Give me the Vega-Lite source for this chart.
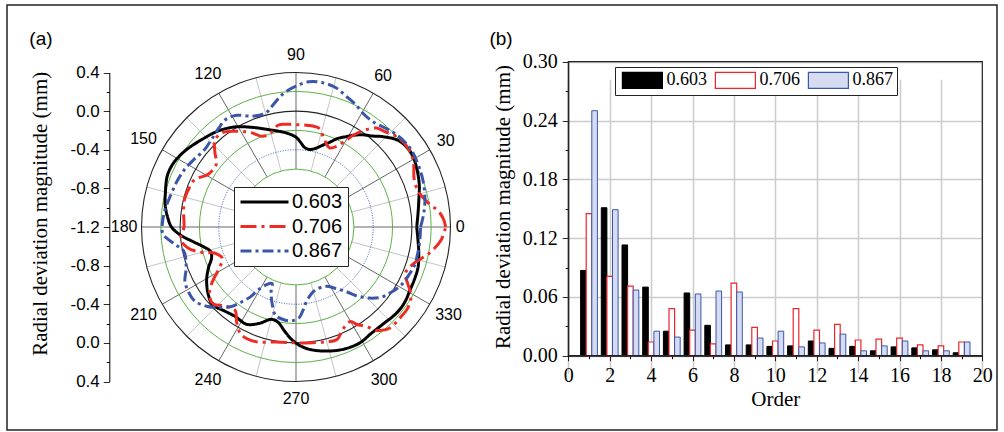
{
  "$schema": "https://vega.github.io/schema/vega-lite/v6.json",
  "width": 990,
  "height": 425,
  "autosize": {"type": "none"},
  "padding": {"left": 7, "top": 5, "right": 7, "bottom": 2},
  "background": "white",
  "config": {
    "view": {"stroke": "#222222", "strokeWidth": 1.5},
    "axis": {"domainColor": "#000000", "tickColor": "#000000", "labelColor": "#000000", "titleColor": "#000000", "titleFontWeight": "normal", "labelOverlap": false, "labelBound": false, "labelFlush": false}
  },
  "datasets": {
    "curves": [
      {"series":"0.603","angle":0,"dev":0.05},{"series":"0.603","angle":6,"dev":0.07},{"series":"0.603","angle":12,"dev":0.10},{"series":"0.603","angle":19,"dev":0.15},{"series":"0.603","angle":26,"dev":0.19},{"series":"0.603","angle":33,"dev":0.22},{"series":"0.603","angle":40,"dev":0.19},{"series":"0.603","angle":46,"dev":0.10},{"series":"0.603","angle":50,"dev":0.03},{"series":"0.603","angle":54,"dev":-0.02},{"series":"0.603","angle":58,"dev":-0.08},{"series":"0.603","angle":61,"dev":-0.13},{"series":"0.603","angle":65,"dev":-0.19},{"series":"0.603","angle":68,"dev":-0.25},{"series":"0.603","angle":72,"dev":-0.31},{"series":"0.603","angle":76,"dev":-0.36},{"series":"0.603","angle":80,"dev":-0.385},{"series":"0.603","angle":84,"dev":-0.37},{"series":"0.603","angle":87,"dev":-0.32},{"series":"0.603","angle":90,"dev":-0.27},{"series":"0.603","angle":96,"dev":-0.22},{"series":"0.603","angle":106,"dev":-0.15},{"series":"0.603","angle":114,"dev":-0.07},{"series":"0.603","angle":121,"dev":0.01},{"series":"0.603","angle":129,"dev":0.08},{"series":"0.603","angle":137,"dev":0.13},{"series":"0.603","angle":145,"dev":0.19},{"series":"0.603","angle":152,"dev":0.23},{"series":"0.603","angle":158,"dev":0.235},{"series":"0.603","angle":165,"dev":0.20},{"series":"0.603","angle":171,"dev":0.17},{"series":"0.603","angle":176,"dev":0.13},{"series":"0.603","angle":180,"dev":0.09},{"series":"0.603","angle":184,"dev":0.0},{"series":"0.603","angle":188,"dev":-0.12},{"series":"0.603","angle":192,"dev":-0.22},{"series":"0.603","angle":196,"dev":-0.28},{"series":"0.603","angle":200,"dev":-0.27},{"series":"0.603","angle":205,"dev":-0.20},{"series":"0.603","angle":211,"dev":-0.12},{"series":"0.603","angle":218,"dev":-0.05},{"series":"0.603","angle":223,"dev":-0.02},{"series":"0.603","angle":230,"dev":-0.06},{"series":"0.603","angle":236,"dev":-0.08},{"series":"0.603","angle":243,"dev":-0.07},{"series":"0.603","angle":249,"dev":-0.13},{"series":"0.603","angle":255,"dev":-0.21},{"series":"0.603","angle":259,"dev":-0.20},{"series":"0.603","angle":264,"dev":-0.11},{"series":"0.603","angle":268,"dev":-0.03},{"series":"0.603","angle":272,"dev":0.03},{"series":"0.603","angle":277,"dev":0.08},{"series":"0.603","angle":285,"dev":0.13},{"series":"0.603","angle":292,"dev":0.16},{"series":"0.603","angle":299,"dev":0.17},{"series":"0.603","angle":305,"dev":0.15},{"series":"0.603","angle":312,"dev":0.15},{"series":"0.603","angle":319,"dev":0.17},{"series":"0.603","angle":325,"dev":0.17},{"series":"0.603","angle":331,"dev":0.15},{"series":"0.603","angle":337,"dev":0.14},{"series":"0.603","angle":342,"dev":0.13},{"series":"0.603","angle":348,"dev":0.10},{"series":"0.603","angle":354,"dev":0.07},{"series":"0.603","angle":360,"dev":0.05},
      {"series":"0.706","angle":0,"dev":0.35},{"series":"0.706","angle":3,"dev":0.33},{"series":"0.706","angle":6,"dev":0.29},{"series":"0.706","angle":11,"dev":0.18},{"series":"0.706","angle":16,"dev":0.12},{"series":"0.706","angle":22,"dev":0.12},{"series":"0.706","angle":28,"dev":0.18},{"series":"0.706","angle":32,"dev":0.21},{"series":"0.706","angle":37,"dev":0.22},{"series":"0.706","angle":42,"dev":0.20},{"series":"0.706","angle":47,"dev":0.15},{"series":"0.706","angle":51,"dev":0.12},{"series":"0.706","angle":55,"dev":0.02},{"series":"0.706","angle":58,"dev":-0.08},{"series":"0.706","angle":60,"dev":-0.16},{"series":"0.706","angle":63,"dev":-0.26},{"series":"0.706","angle":67,"dev":-0.31},{"series":"0.706","angle":72,"dev":-0.25},{"series":"0.706","angle":77,"dev":-0.15},{"series":"0.706","angle":84,"dev":-0.14},{"series":"0.706","angle":90,"dev":-0.14},{"series":"0.706","angle":96,"dev":-0.13},{"series":"0.706","angle":100,"dev":-0.13},{"series":"0.706","angle":105,"dev":-0.19},{"series":"0.706","angle":110,"dev":-0.20},{"series":"0.706","angle":116,"dev":-0.11},{"series":"0.706","angle":122,"dev":-0.03},{"series":"0.706","angle":128,"dev":0.04},{"series":"0.706","angle":133,"dev":0.03},{"series":"0.706","angle":137,"dev":-0.05},{"series":"0.706","angle":142,"dev":-0.15},{"series":"0.706","angle":149,"dev":-0.14},{"series":"0.706","angle":155,"dev":-0.04},{"series":"0.706","angle":161,"dev":-0.02},{"series":"0.706","angle":167,"dev":-0.01},{"series":"0.706","angle":174,"dev":-0.03},{"series":"0.706","angle":180,"dev":-0.04},{"series":"0.706","angle":186,"dev":0.0},{"series":"0.706","angle":191,"dev":-0.06},{"series":"0.706","angle":195,"dev":-0.19},{"series":"0.706","angle":198,"dev":-0.32},{"series":"0.706","angle":203,"dev":-0.37},{"series":"0.706","angle":209,"dev":-0.28},{"series":"0.706","angle":213,"dev":-0.17},{"series":"0.706","angle":218,"dev":-0.06},{"series":"0.706","angle":223,"dev":-0.03},{"series":"0.706","angle":228,"dev":-0.10},{"series":"0.706","angle":234,"dev":-0.13},{"series":"0.706","angle":238,"dev":-0.04},{"series":"0.706","angle":243,"dev":0.05},{"series":"0.706","angle":250,"dev":0.06},{"series":"0.706","angle":260,"dev":0.01},{"series":"0.706","angle":270,"dev":0.0},{"series":"0.706","angle":278,"dev":0.01},{"series":"0.706","angle":285,"dev":0.03},{"series":"0.706","angle":290,"dev":0.04},{"series":"0.706","angle":295,"dev":-0.04},{"series":"0.706","angle":300,"dev":-0.07},{"series":"0.706","angle":302,"dev":-0.01},{"series":"0.706","angle":305,"dev":0.05},{"series":"0.706","angle":308,"dev":0.16},{"series":"0.706","angle":313,"dev":0.23},{"series":"0.706","angle":318,"dev":0.23},{"series":"0.706","angle":324,"dev":0.23},{"series":"0.706","angle":329,"dev":0.19},{"series":"0.706","angle":333,"dev":0.10},{"series":"0.706","angle":337,"dev":0.03},{"series":"0.706","angle":343,"dev":0.08},{"series":"0.706","angle":349,"dev":0.21},{"series":"0.706","angle":355,"dev":0.31},{"series":"0.706","angle":360,"dev":0.35},
      {"series":"0.867","angle":0,"dev":0.09},{"series":"0.867","angle":6,"dev":0.13},{"series":"0.867","angle":12,"dev":0.165},{"series":"0.867","angle":20,"dev":0.20},{"series":"0.867","angle":27,"dev":0.22},{"series":"0.867","angle":33,"dev":0.235},{"series":"0.867","angle":38,"dev":0.23},{"series":"0.867","angle":43,"dev":0.21},{"series":"0.867","angle":48,"dev":0.18},{"series":"0.867","angle":54,"dev":0.15},{"series":"0.867","angle":60,"dev":0.17},{"series":"0.867","angle":64,"dev":0.21},{"series":"0.867","angle":69,"dev":0.25},{"series":"0.867","angle":74,"dev":0.30},{"series":"0.867","angle":80,"dev":0.32},{"series":"0.867","angle":85,"dev":0.31},{"series":"0.867","angle":90,"dev":0.26},{"series":"0.867","angle":94,"dev":0.21},{"series":"0.867","angle":97,"dev":0.16},{"series":"0.867","angle":101,"dev":0.08},{"series":"0.867","angle":105,"dev":0.02},{"series":"0.867","angle":111,"dev":0.03},{"series":"0.867","angle":118,"dev":0.11},{"series":"0.867","angle":123,"dev":0.13},{"series":"0.867","angle":128,"dev":0.10},{"series":"0.867","angle":134,"dev":0.06},{"series":"0.867","angle":140,"dev":0.04},{"series":"0.867","angle":147,"dev":0.07},{"series":"0.867","angle":153,"dev":0.10},{"series":"0.867","angle":159,"dev":0.12},{"series":"0.867","angle":166,"dev":0.14},{"series":"0.867","angle":173,"dev":0.17},{"series":"0.867","angle":179,"dev":0.185},{"series":"0.867","angle":183,"dev":0.18},{"series":"0.867","angle":188,"dev":0.07},{"series":"0.867","angle":192,"dev":-0.01},{"series":"0.867","angle":200,"dev":0.01},{"series":"0.867","angle":206,"dev":0.08},{"series":"0.867","angle":211,"dev":0.10},{"series":"0.867","angle":216,"dev":0.10},{"series":"0.867","angle":222,"dev":0.03},{"series":"0.867","angle":227,"dev":-0.06},{"series":"0.867","angle":231,"dev":-0.14},{"series":"0.867","angle":234,"dev":-0.24},{"series":"0.867","angle":237,"dev":-0.34},{"series":"0.867","angle":239,"dev":-0.44},{"series":"0.867","angle":243,"dev":-0.53},{"series":"0.867","angle":247,"dev":-0.565},{"series":"0.867","angle":249,"dev":-0.48},{"series":"0.867","angle":253,"dev":-0.36},{"series":"0.867","angle":257,"dev":-0.26},{"series":"0.867","angle":263,"dev":-0.23},{"series":"0.867","angle":268,"dev":-0.23},{"series":"0.867","angle":272,"dev":-0.26},{"series":"0.867","angle":275,"dev":-0.34},{"series":"0.867","angle":278,"dev":-0.42},{"series":"0.867","angle":283,"dev":-0.49},{"series":"0.867","angle":288,"dev":-0.52},{"series":"0.867","angle":297,"dev":-0.51},{"series":"0.867","angle":303,"dev":-0.44},{"series":"0.867","angle":308,"dev":-0.35},{"series":"0.867","angle":311,"dev":-0.26},{"series":"0.867","angle":316,"dev":-0.14},{"series":"0.867","angle":321,"dev":-0.05},{"series":"0.867","angle":326,"dev":0.0},{"series":"0.867","angle":332,"dev":0.05},{"series":"0.867","angle":337,"dev":0.07},{"series":"0.867","angle":342,"dev":0.09},{"series":"0.867","angle":347,"dev":0.09},{"series":"0.867","angle":353,"dev":0.09},{"series":"0.867","angle":360,"dev":0.09}
    ],
    "spokes": [
      {"angle":0},{"angle":15},{"angle":30},{"angle":45},{"angle":60},{"angle":75},{"angle":90},{"angle":105},{"angle":120},{"angle":135},{"angle":150},{"angle":165},{"angle":180},{"angle":195},{"angle":210},{"angle":225},{"angle":240},{"angle":255},{"angle":270},{"angle":285},{"angle":300},{"angle":315},{"angle":330},{"angle":345}
    ],
    "rings": [
      {"dev":-0.6,"style":"green"},{"dev":-0.4,"style":"blue"},{"dev":-0.2,"style":"green"},{"dev":0.0,"style":"black"},{"dev":0.2,"style":"green"},{"dev":0.4,"style":"black"}
    ],
    "angleLabels": [
      {"angle":0,"label":"0"},{"angle":30,"label":"30"},{"angle":60,"label":"60"},{"angle":90,"label":"90"},{"angle":120,"label":"120"},{"angle":150,"label":"150"},{"angle":180,"label":"180"},{"angle":210,"label":"210"},{"angle":240,"label":"240"},{"angle":270,"label":"270"},{"angle":300,"label":"300"},{"angle":330,"label":"330"}
    ],
    "bars": [
      {"series":"0.603","order":1,"value":0.087},{"series":"0.706","order":1,"value":0.145},{"series":"0.867","order":1,"value":0.250},
      {"series":"0.603","order":2,"value":0.151},{"series":"0.706","order":2,"value":0.081},{"series":"0.867","order":2,"value":0.149},
      {"series":"0.603","order":3,"value":0.113},{"series":"0.706","order":3,"value":0.071},{"series":"0.867","order":3,"value":0.067},
      {"series":"0.603","order":4,"value":0.070},{"series":"0.706","order":4,"value":0.014},{"series":"0.867","order":4,"value":0.025},
      {"series":"0.603","order":5,"value":0.025},{"series":"0.706","order":5,"value":0.048},{"series":"0.867","order":5,"value":0.019},
      {"series":"0.603","order":6,"value":0.064},{"series":"0.706","order":6,"value":0.026},{"series":"0.867","order":6,"value":0.063},
      {"series":"0.603","order":7,"value":0.031},{"series":"0.706","order":7,"value":0.012},{"series":"0.867","order":7,"value":0.066},
      {"series":"0.603","order":8,"value":0.011},{"series":"0.706","order":8,"value":0.074},{"series":"0.867","order":8,"value":0.065},
      {"series":"0.603","order":9,"value":0.011},{"series":"0.706","order":9,"value":0.029},{"series":"0.867","order":9,"value":0.018},
      {"series":"0.603","order":10,"value":0.0095},{"series":"0.706","order":10,"value":0.015},{"series":"0.867","order":10,"value":0.025},
      {"series":"0.603","order":11,"value":0.010},{"series":"0.706","order":11,"value":0.048},{"series":"0.867","order":11,"value":0.009},
      {"series":"0.603","order":12,"value":0.015},{"series":"0.706","order":12,"value":0.026},{"series":"0.867","order":12,"value":0.013},
      {"series":"0.603","order":13,"value":0.0075},{"series":"0.706","order":13,"value":0.032},{"series":"0.867","order":13,"value":0.022},
      {"series":"0.603","order":14,"value":0.0095},{"series":"0.706","order":14,"value":0.016},{"series":"0.867","order":14,"value":0.005},
      {"series":"0.603","order":15,"value":0.005},{"series":"0.706","order":15,"value":0.017},{"series":"0.867","order":15,"value":0.010},
      {"series":"0.603","order":16,"value":0.009},{"series":"0.706","order":16,"value":0.018},{"series":"0.867","order":16,"value":0.015},
      {"series":"0.603","order":17,"value":0.008},{"series":"0.706","order":17,"value":0.011},{"series":"0.867","order":17,"value":0.005},
      {"series":"0.603","order":18,"value":0.006},{"series":"0.706","order":18,"value":0.010},{"series":"0.867","order":18,"value":0.005},
      {"series":"0.603","order":19,"value":0.003},{"series":"0.706","order":19,"value":0.014},{"series":"0.867","order":19,"value":0.014}
    ]
  },
  "layer": [
    {
      "data": {"name": "spokes"},
      "transform": [
        {"calculate": "0.6*cos(datum.angle*PI/180)", "as": "sx1"},
        {"calculate": "0.6*sin(datum.angle*PI/180)", "as": "sy1"},
        {"calculate": "1.6*cos(datum.angle*PI/180)", "as": "sx2"},
        {"calculate": "1.6*sin(datum.angle*PI/180)", "as": "sy2"}
      ],
      "mark": {"type": "rule", "strokeWidth": 0.9},
      "encoding": {
        "x": {"field": "sx1", "type": "quantitative", "scale": {"domain": [-1.6, 1.6], "range": [134.5, 443.5], "zero": false, "nice": false}, "axis": null},
        "y": {"field": "sy1", "type": "quantitative", "scale": {"domain": [-1.6, 1.6], "range": [376.5, 67.5], "zero": false, "nice": false}, "axis": null},
        "x2": {"field": "sx2"},
        "y2": {"field": "sy2"},
        "color": {"condition": {"test": "datum.angle % 30 == 0", "value": "#555555"}, "value": "#bdbdbd"}
      }
    },
    {
      "data": {"name": "rings"},
      "transform": [{"filter": "datum.style == 'green'"}, {"calculate": "datum.dev + 1.2", "as": "R"}],
      "mark": {"type": "point", "shape": "circle", "filled": false, "opacity": 1, "stroke": "#5cb14a", "strokeWidth": 1},
      "encoding": {
        "x": {"datum": 0, "type": "quantitative", "scale": {"domain": [-1.6, 1.6], "range": [134.5, 443.5], "zero": false, "nice": false}, "axis": null},
        "y": {"datum": 0, "type": "quantitative", "scale": {"domain": [-1.6, 1.6], "range": [376.5, 67.5], "zero": false, "nice": false}, "axis": null},
        "size": {"field": "R", "type": "quantitative", "scale": {"type": "pow", "exponent": 2, "domain": [0, 1.6], "range": [0, 95481], "zero": true, "nice": false}, "legend": null}
      }
    },
    {
      "data": {"name": "rings"},
      "transform": [{"filter": "datum.style == 'blue'"}, {"calculate": "datum.dev + 1.2", "as": "R"}],
      "mark": {"type": "point", "shape": "circle", "filled": false, "opacity": 1, "stroke": "#3355bb", "strokeWidth": 1, "strokeDash": [1, 1.5]},
      "encoding": {
        "x": {"datum": 0, "type": "quantitative", "scale": {"domain": [-1.6, 1.6], "range": [134.5, 443.5], "zero": false, "nice": false}, "axis": null},
        "y": {"datum": 0, "type": "quantitative", "scale": {"domain": [-1.6, 1.6], "range": [376.5, 67.5], "zero": false, "nice": false}, "axis": null},
        "size": {"field": "R", "type": "quantitative", "scale": {"type": "pow", "exponent": 2, "domain": [0, 1.6], "range": [0, 95481], "zero": true, "nice": false}, "legend": null}
      }
    },
    {
      "data": {"name": "rings"},
      "transform": [{"filter": "datum.style == 'black'"}, {"calculate": "datum.dev + 1.2", "as": "R"}],
      "mark": {"type": "point", "shape": "circle", "filled": false, "opacity": 1, "stroke": "#222222", "strokeWidth": 1.1},
      "encoding": {
        "x": {"datum": 0, "type": "quantitative", "scale": {"domain": [-1.6, 1.6], "range": [134.5, 443.5], "zero": false, "nice": false}, "axis": null},
        "y": {"datum": 0, "type": "quantitative", "scale": {"domain": [-1.6, 1.6], "range": [376.5, 67.5], "zero": false, "nice": false}, "axis": null},
        "size": {"field": "R", "type": "quantitative", "scale": {"type": "pow", "exponent": 2, "domain": [0, 1.6], "range": [0, 95481], "zero": true, "nice": false}, "legend": null}
      }
    },
    {
      "data": {"name": "curves"},
      "transform": [
        {"calculate": "(datum.dev + 1.2)*cos(datum.angle*PI/180)", "as": "px"},
        {"calculate": "(datum.dev + 1.2)*sin(datum.angle*PI/180)", "as": "py"}
      ],
      "mark": {"type": "line", "strokeWidth": 3, "interpolate": "catmull-rom"},
      "encoding": {
        "x": {"field": "px", "type": "quantitative", "scale": {"domain": [-1.6, 1.6], "range": [134.5, 443.5], "zero": false, "nice": false}, "axis": null},
        "y": {
          "field": "py", "type": "quantitative",
          "scale": {"domain": [-1.6, 1.6], "range": [376.5, 67.5], "zero": false, "nice": false},
          "axis": {
            "orient": "left", "offset": -102.3, "zindex": 2,
            "values": [-1.6, -1.4, -1.2, -1, -0.8, -0.6, -0.4, -0.2, 0, 0.2, 0.4, 0.6, 0.8, 1, 1.2, 1.4, 1.6],
            "labelExpr": "abs(round(datum.value*5)) % 2 == 0 ? replace(format(abs(datum.value) - 1.2, '.1f'), '\u2212', '-') : ''",
            "tickSize": 6,
            "tickDash": {"condition": {"test": "abs(round(datum.value*5)) % 2 == 0", "value": [1, 0]}, "value": [3, 10]},
            "grid": false,
            "labelFont": "Liberation Sans", "labelFontSize": 17, "labelPadding": 4,
            "title": "Radial deviation magnitude (mm)",
            "titleFont": "Liberation Serif", "titleFontSize": 21,
            "titleAngle": 270, "titleAlign": "center", "titleBaseline": "bottom",
            "titleX": -58.8, "titleY": 208.3
          }
        },
        "order": {"field": "angle", "type": "quantitative"},
        "stroke": {
          "field": "series", "type": "nominal",
          "scale": {"domain": ["0.603", "0.706", "0.867"], "range": ["#000000", "#ee2b24", "#3b55a8"]},
          "legend": {"orient": "none", "legendX": 227, "legendY": 182, "title": null, "symbolType": "M-3,0H3", "symbolSize": 256, "symbolStrokeWidth": 3, "symbolOffset": 15.5, "labelFont": "Liberation Sans", "labelFontSize": 20, "labelColor": "#000000", "labelOffset": 17.5, "rowPadding": 4.5, "padding": 5, "strokeColor": "#222222", "fillColor": "#ffffff"}
        },
        "strokeDash": {
          "field": "series", "type": "nominal",
          "scale": {"domain": ["0.603", "0.706", "0.867"], "range": [[1, 0], [16, 5, 3, 5], [11, 4, 3, 4]]},
          "legend": {"orient": "none", "legendX": 227, "legendY": 182, "title": null, "symbolType": "M-3,0H3", "symbolSize": 256, "symbolStrokeWidth": 3, "symbolOffset": 15.5, "labelFont": "Liberation Sans", "labelFontSize": 20, "labelColor": "#000000", "labelOffset": 17.5, "rowPadding": 4.5, "padding": 5, "strokeColor": "#222222", "fillColor": "#ffffff"}
        }
      }
    },
    {
      "data": {"name": "angleLabels"},
      "transform": [
        {"calculate": "1.66 + 0.04*length(datum.label)*abs(cos(datum.angle*PI/180)) + 0.12*abs(sin(datum.angle*PI/180))", "as": "lr"},
        {"calculate": "datum.lr*cos(datum.angle*PI/180)", "as": "lx"},
        {"calculate": "datum.lr*sin(datum.angle*PI/180)", "as": "ly"}
      ],
      "mark": {"type": "text", "font": "Liberation Sans", "fontSize": 16, "align": "center", "baseline": "middle", "color": "#000000"},
      "encoding": {
        "x": {"field": "lx", "type": "quantitative", "scale": {"domain": [-1.6, 1.6], "range": [134.5, 443.5], "zero": false, "nice": false}, "axis": null},
        "y": {"field": "ly", "type": "quantitative", "scale": {"domain": [-1.6, 1.6], "range": [376.5, 67.5], "zero": false, "nice": false}, "axis": null},
        "text": {"field": "label"}
      }
    },
    {
      "data": {"values": [{"tag": "(a)"}]},
      "mark": {"type": "text", "font": "Liberation Sans", "fontSize": 19, "align": "center", "baseline": "middle", "color": "#000000"},
      "encoding": {
        "x": {"datum": -2.641, "type": "quantitative", "scale": {"domain": [-1.6, 1.6], "range": [134.5, 443.5], "zero": false, "nice": false}, "axis": null},
        "y": {"datum": 1.947, "type": "quantitative", "scale": {"domain": [-1.6, 1.6], "range": [376.5, 67.5], "zero": false, "nice": false}, "axis": null},
        "text": {"field": "tag"}
      }
    },
    {
      "data": {"name": "bars"},
      "transform": [{"filter": "datum.series == '0.603'"}],
      "mark": {"type": "bar", "width": 5.6, "xOffset": -5.6, "strokeWidth": 1},
      "encoding": {
        "x": {
          "field": "order", "type": "quantitative",
          "scale": {"domain": [0, 20], "range": [561.3, 975.3], "zero": false, "nice": false, "padding": 0},
          "axis": {
            "orient": "bottom", "offset": -74.3,
            "values": [0, 1, 2, 3, 4, 5, 6, 7, 8, 9, 10, 11, 12, 13, 14, 15, 16, 17, 18, 19, 20],
            "labelExpr": "datum.value % 2 == 0 ? datum.label : ''",
            "tickSize": 5,
            "tickDash": {"condition": {"test": "datum.value % 2 == 0", "value": [1, 0]}, "value": [3, 10]},
            "grid": true, "gridColor": "#cccccc", "gridWidth": 1.5,
            "gridOpacity": {"condition": {"test": "datum.value % 2 == 0", "value": 1}, "value": 0},
            "labelFont": "Liberation Serif", "labelFontSize": 20, "labelBaseline": "alphabetic", "labelPadding": 21,
            "title": "Order", "titleFont": "Liberation Serif", "titleFontSize": 21, "titleBaseline": "alphabetic", "titleY": 49.3
          }
        },
        "y": {
          "field": "value", "type": "quantitative",
          "scale": {"domain": [0, 0.3], "range": [350.7, 56.7], "zero": true, "nice": false, "padding": 0},
          "axis": {
            "orient": "left", "offset": -561.3,
            "values": [0, 0.03, 0.06, 0.09, 0.12, 0.15, 0.18, 0.21, 0.24, 0.27, 0.3],
            "labelExpr": "round(datum.value/0.03) % 2 == 0 ? format(datum.value, '.2f') : ''",
            "tickSize": 6,
            "tickDash": {"condition": {"test": "round(datum.value/0.03) % 2 == 0", "value": [1, 0]}, "value": [3, 10]},
            "grid": true, "gridColor": "#cccccc", "gridWidth": 1.5,
            "gridOpacity": {"condition": {"test": "round(datum.value/0.03) % 2 == 0", "value": 1}, "value": 0},
            "labelFont": "Liberation Serif", "labelFontSize": 20, "labelPadding": 5,
            "title": "Radial deviation magnitude (mm)",
            "titleFont": "Liberation Serif", "titleFontSize": 21,
            "titleAngle": 270, "titleAlign": "center", "titleBaseline": "bottom",
            "titleX": -54.8, "titleY": 201.5
          }
        },
        "fill": {
          "field": "series", "type": "nominal",
          "scale": {"domain": ["0.603", "0.706", "0.867"], "range": ["#000000", "#ffffff", "#d6dcf0"]},
          "legend": {"orient": "none", "legendX": 608, "legendY": 62, "direction": "horizontal", "title": null, "symbolType": "M-2.5,-1H2.5V1H-2.5Z", "symbolSize": 256, "symbolStrokeWidth": 1.2, "symbolOffset": 14.4, "labelFont": "Liberation Serif", "labelFontSize": 18, "labelColor": "#000000", "labelOffset": 15, "columnPadding": 5, "padding": 4, "strokeColor": "#222222", "fillColor": "#ffffff"}
        },
        "stroke": {
          "field": "series", "type": "nominal",
          "scale": {"domain": ["0.603", "0.706", "0.867"], "range": ["#000000", "#e8262c", "#3a56b0"]},
          "legend": {"orient": "none", "legendX": 608, "legendY": 62, "direction": "horizontal", "title": null, "symbolType": "M-2.5,-1H2.5V1H-2.5Z", "symbolSize": 256, "symbolStrokeWidth": 1.2, "symbolOffset": 14.4, "labelFont": "Liberation Serif", "labelFontSize": 18, "labelColor": "#000000", "labelOffset": 15, "columnPadding": 5, "padding": 4, "strokeColor": "#222222", "fillColor": "#ffffff"}
        }
      }
    },
    {
      "data": {"name": "bars"},
      "transform": [{"filter": "datum.series == '0.706'"}],
      "mark": {"type": "bar", "width": 5.6, "xOffset": 0, "strokeWidth": 1.2},
      "encoding": {
        "x": {"field": "order", "type": "quantitative", "scale": {"domain": [0, 20], "range": [561.3, 975.3], "zero": false, "nice": false, "padding": 0}, "axis": null},
        "y": {"field": "value", "type": "quantitative", "scale": {"domain": [0, 0.3], "range": [350.7, 56.7], "zero": true, "nice": false, "padding": 0}, "axis": null},
        "fill": {"field": "series", "type": "nominal", "scale": {"domain": ["0.603", "0.706", "0.867"], "range": ["#000000", "#ffffff", "#d6dcf0"]}, "legend": null},
        "stroke": {"field": "series", "type": "nominal", "scale": {"domain": ["0.603", "0.706", "0.867"], "range": ["#000000", "#e8262c", "#3a56b0"]}, "legend": null}
      }
    },
    {
      "data": {"name": "bars"},
      "transform": [{"filter": "datum.series == '0.867'"}],
      "mark": {"type": "bar", "width": 5.6, "xOffset": 5.6, "strokeWidth": 1},
      "encoding": {
        "x": {"field": "order", "type": "quantitative", "scale": {"domain": [0, 20], "range": [561.3, 975.3], "zero": false, "nice": false, "padding": 0}, "axis": null},
        "y": {"field": "value", "type": "quantitative", "scale": {"domain": [0, 0.3], "range": [350.7, 56.7], "zero": true, "nice": false, "padding": 0}, "axis": null},
        "fill": {"field": "series", "type": "nominal", "scale": {"domain": ["0.603", "0.706", "0.867"], "range": ["#000000", "#ffffff", "#d6dcf0"]}, "legend": null},
        "stroke": {"field": "series", "type": "nominal", "scale": {"domain": ["0.603", "0.706", "0.867"], "range": ["#000000", "#e8262c", "#3a56b0"]}, "legend": null}
      }
    },
    {
      "data": {"values": [{"frame": "plot"}]},
      "mark": {"type": "rect", "fill": "transparent", "stroke": "#222222", "strokeWidth": 1.2},
      "encoding": {
        "x": {"datum": 0, "type": "quantitative", "scale": {"domain": [0, 20], "range": [561.3, 975.3], "zero": false, "nice": false, "padding": 0}, "axis": null},
        "x2": {"datum": 20},
        "y": {"datum": 0, "type": "quantitative", "scale": {"domain": [0, 0.3], "range": [350.7, 56.7], "zero": true, "nice": false, "padding": 0}, "axis": null},
        "y2": {"datum": 0.3}
      }
    },
    {
      "data": {"values": [{"tag": "(b)"}]},
      "mark": {"type": "text", "font": "Liberation Sans", "fontSize": 19, "align": "center", "baseline": "middle", "color": "#000000"},
      "encoding": {
        "x": {"datum": -3.251, "type": "quantitative", "scale": {"domain": [0, 20], "range": [561.3, 975.3], "zero": false, "nice": false, "padding": 0}, "axis": null},
        "y": {"datum": 0.3232, "type": "quantitative", "scale": {"domain": [0, 0.3], "range": [350.7, 56.7], "zero": true, "nice": false, "padding": 0}, "axis": null},
        "text": {"field": "tag"}
      }
    }
  ],
  "resolve": {"scale": {"x": "independent", "y": "independent", "size": "independent", "stroke": "independent", "strokeDash": "independent", "fill": "independent"}}
}
